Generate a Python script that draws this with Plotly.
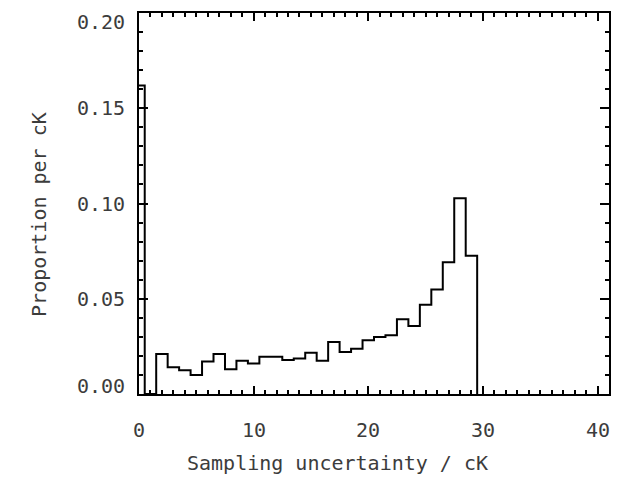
import plotly.graph_objects as go

# Histogram: bin centres (cK) and proportion per cK
bin_centers = list(range(0, 30))
proportions = [0.162, 0.0, 0.021, 0.014, 0.0125, 0.010, 0.017, 0.021, 0.013, 0.0174,
               0.016, 0.0195, 0.0195, 0.0178, 0.0186, 0.0216, 0.0174, 0.0273, 0.0221, 0.0238,
               0.0282, 0.0299, 0.0308, 0.0392, 0.0357, 0.0468, 0.0548, 0.0691, 0.1027, 0.0726]
bin_width = 1.0

x_ticks = [0, 10, 20, 30, 40]
y_ticks = [0.00, 0.05, 0.10, 0.15, 0.20]
y_tick_text = ["0.00", "0.05", "0.10", "0.15", "0.20"]
x_title = "Sampling uncertainty / cK"
y_title = "Proportion per cK"

# build step outline from the bins
xs, ys = [], []
for c, v in zip(bin_centers, proportions):
    left = max(c - bin_width / 2, 0)
    right = c + bin_width / 2
    xs += [left, right]
    ys += [v, v]
xs += [xs[-1]]
ys += [0]

FONT = "DejaVu Sans Mono"
TXT = "#3c3c3c"
FS = 20

fig = go.Figure()
fig.add_trace(go.Scatter(x=xs, y=ys, mode="lines",
                         line=dict(color="black", width=2), hoverinfo="skip"))

axis_common = dict(showline=True, linecolor="black", linewidth=2, mirror="allticks",
                   ticks="inside", tickcolor="black", tickwidth=2, showgrid=False,
                   zeroline=False, showticklabels=False)
fig.update_xaxes(range=[0, 41], tickvals=x_ticks, ticklen=8,
                 minor=dict(dtick=1, ticklen=4, tickwidth=2, tickcolor="black",
                            ticks="inside", showgrid=False),
                 **axis_common)
fig.update_yaxes(range=[0, 0.20], tickvals=y_ticks, ticklen=9,
                 minor=dict(dtick=0.01, ticklen=4, tickwidth=2, tickcolor="black",
                            ticks="inside", showgrid=False),
                 **axis_common)

annotations = []
for t in x_ticks:
    annotations.append(dict(x=t, y=0, xref="x", yref="paper", text=str(t), showarrow=False,
                            xanchor="center", yanchor="middle", yshift=-36,
                            font=dict(family=FONT, size=FS, color=TXT)))
shifts = {0: 8, 4: -9}
for i, (t, s) in enumerate(zip(y_ticks, y_tick_text)):
    annotations.append(dict(x=0, y=t, xref="paper", yref="y", text=s, showarrow=False,
                            xanchor="right", yanchor="middle", xshift=-12,
                            yshift=shifts.get(i, 0),
                            font=dict(family=FONT, size=FS, color=TXT)))
annotations.append(dict(x=17.3, y=0, xref="x", yref="paper", text=x_title, showarrow=False,
                        xanchor="center", yanchor="middle", yshift=-69,
                        font=dict(family=FONT, size=FS, color=TXT)))
annotations.append(dict(x=0, y=0.094, xref="paper", yref="y", text=y_title, showarrow=False,
                        xanchor="center", yanchor="middle", xshift=-100, textangle=-90,
                        font=dict(family=FONT, size=FS, color=TXT)))

fig.update_layout(width=629, height=478, margin=dict(l=139, r=20, t=11, b=84),
                  paper_bgcolor="white", plot_bgcolor="white", showlegend=False,
                  annotations=annotations)

fig.write_html("out.html", config={"displayModeBar": False},
               post_script="document.body.style.margin='0';")
